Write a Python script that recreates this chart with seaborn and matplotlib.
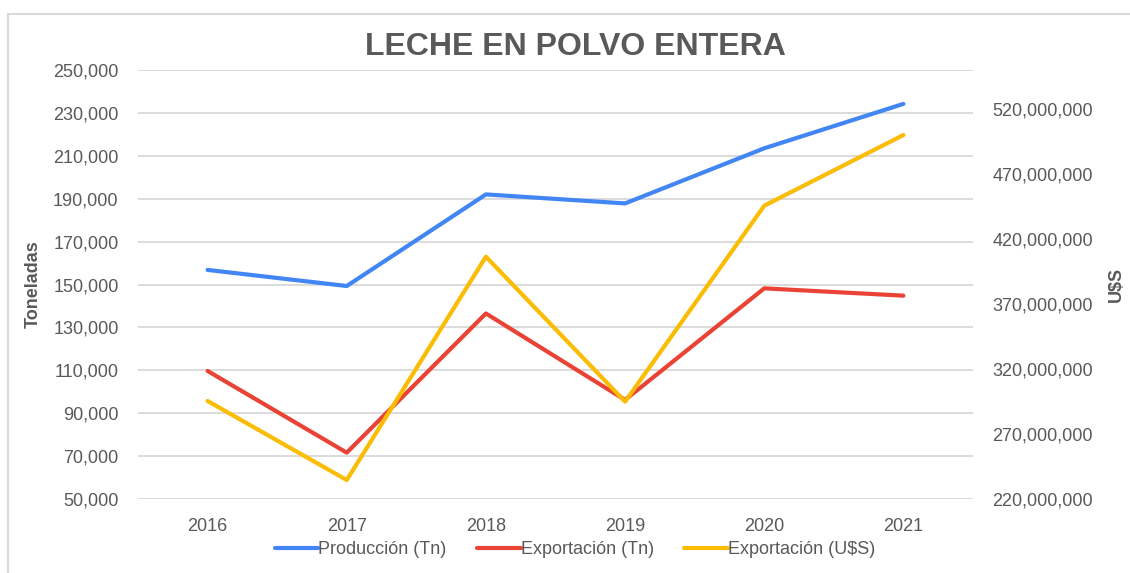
import matplotlib
matplotlib.use("Agg")
import matplotlib.pyplot as plt
import matplotlib.ticker as mticker
from matplotlib.patches import Rectangle
import seaborn as sns
import pandas as pd

# data
years = ["2016", "2017", "2018", "2019", "2020", "2021"]
produccion_tn = [156800, 149300, 192000, 187800, 213500, 234200]
exportacion_tn = [109700, 71600, 136500, 96200, 148200, 144800]
exportacion_usd = [295400000, 234600000, 406400000, 294900000, 445600000, 500000000]

left_ticks = list(range(50000, 250001, 20000))
right_ticks = list(range(220000000, 520000001, 50000000))

BLUE = "#4285F4"
RED = "#EA4335"
YELLOW = "#FBBC04"
GREY = "#595959"
GRID = "#d9d9d9"

sns.set_theme(style="white")
plt.rcParams["font.family"] = ["Liberation Sans", "DejaVu Sans"]

df = pd.DataFrame({
    "year": years,
    "Producción (Tn)": produccion_tn,
    "Exportación (Tn)": exportacion_tn,
    "Exportación (U$S)": exportacion_usd,
})

fig = plt.figure(figsize=(11.3, 5.73), dpi=100)
ax = fig.add_axes([138 / 1130, 74 / 573, 835 / 1130, 429 / 573])
ax2 = ax.twinx()

sns.lineplot(data=df, x="year", y="Producción (Tn)", ax=ax, color=BLUE,
             lw=3.0, sort=False, label="Producción (Tn)", legend=False)
sns.lineplot(data=df, x="year", y="Exportación (Tn)", ax=ax, color=RED,
             lw=3.0, sort=False, label="Exportación (Tn)", legend=False)
sns.lineplot(data=df, x="year", y="Exportación (U$S)", ax=ax2, color=YELLOW,
             lw=3.0, sort=False, label="Exportación (U$S)", legend=False)

ax.set_xlim(-0.5, len(years) - 0.5)
ax.set_ylim(50000, 250000)
ax.set_yticks(left_ticks)
ax2.set_ylim(220000000, 550000000)
ax2.set_yticks(right_ticks)

ax.yaxis.set_major_formatter(mticker.FuncFormatter(lambda v, p: f"{int(v):,}"))
ax2.yaxis.set_major_formatter(mticker.FuncFormatter(lambda v, p: f"{int(v):,}"))

ax.grid(axis="y", color=GRID, lw=1.3)
ax.set_axisbelow(True)
for a in (ax, ax2):
    for s in a.spines.values():
        s.set_visible(False)
    a.tick_params(length=0, labelsize=13, labelcolor=GREY)
ax.tick_params(axis="y", pad=14)
ax.tick_params(axis="x", pad=14)
ax2.tick_params(axis="y", pad=14)

ax.set_xlabel("")
ax.set_ylabel("Toneladas", fontsize=13, fontweight="bold", color=GREY, labelpad=8)
ax2.set_ylabel("U$S", fontsize=13, fontweight="bold", color=GREY, labelpad=11)

fig.text(575 / 1130, 1 - 47 / 573, "LECHE EN POLVO ENTERA", ha="center", va="center",
         fontsize=23, fontweight="bold", color=GREY)

h1, l1 = ax.get_legend_handles_labels()
h2, l2 = ax2.get_legend_handles_labels()
fig.legend(h1 + h2, l1 + l2, loc="center", bbox_to_anchor=(575 / 1130, 1 - 550 / 573),
           ncol=3, frameon=False, fontsize=13, handlelength=2.4, handletextpad=0.0,
           columnspacing=1.7, labelcolor=GREY)

# light frame around the chart, like the spreadsheet chart area
fig.patches.append(Rectangle((8 / 1130, -0.1), 1.2, 1 - 14 / 573 + 0.1,
                             transform=fig.transFigure, fill=False,
                             edgecolor=GRID, lw=1.5, zorder=0))

fig.savefig("out.png", dpi=100)
